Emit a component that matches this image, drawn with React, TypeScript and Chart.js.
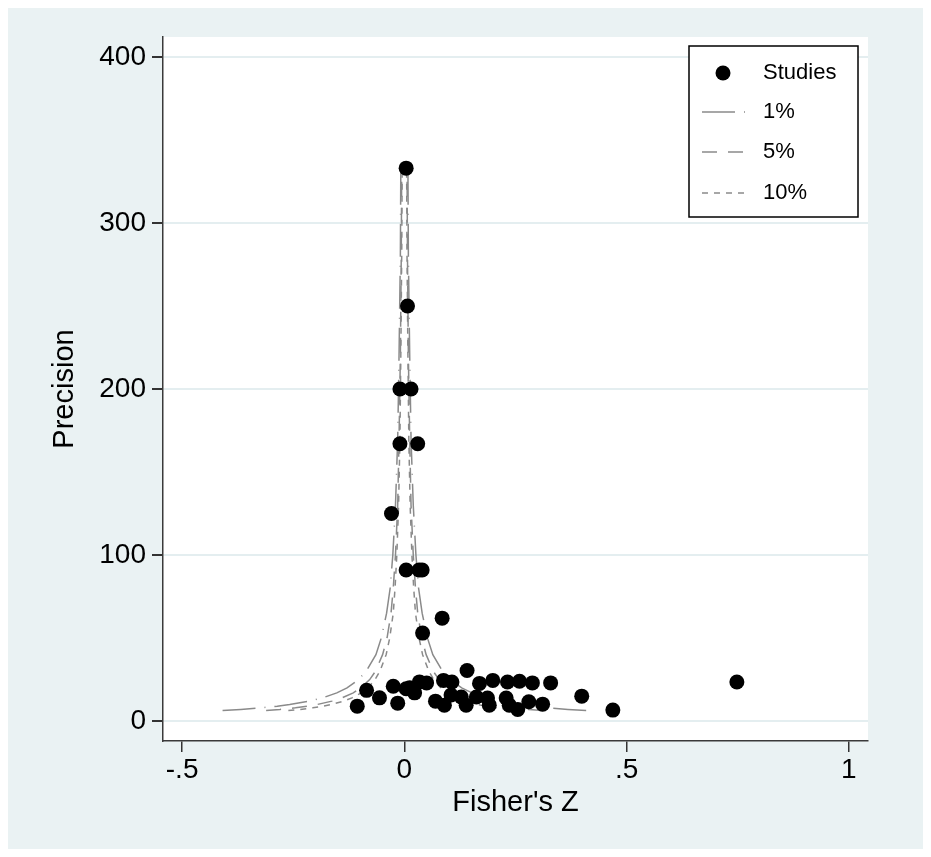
import React, { useEffect, useRef } from 'react';
import { Chart, registerables } from 'chart.js';

Chart.register(...registerables);

// ---- Data ----
// Studies: Fisher's Z (x) and precision (y)
const studyZ = [
  0.004, 0.007, -0.01, 0.015, -0.01, 0.03, -0.029, 0.004, 0.033, 0.04, 0.085, 0.041,
  -0.106, -0.085, -0.056, -0.025, -0.015, 0.004, 0.012, 0.023, 0.034, 0.05, 0.07,
  0.088, 0.107, 0.141, 0.09, 0.105, 0.128, 0.139, 0.162, 0.169, 0.187, 0.191,
  0.199, 0.229, 0.232, 0.236, 0.255, 0.259, 0.28, 0.288, 0.311, 0.329, 0.399,
  0.469, 0.748,
];
const studyPrecision = [
  333, 250, 200, 200, 167, 167, 125, 91, 91, 91, 62, 53,
  9, 18.5, 14, 21, 10.8, 19.5, 20, 17, 23.6, 23, 12,
  24.5, 23.5, 30.5, 9.6, 15.7, 14.5, 9.6, 14.5, 22.7, 13.9, 9.6,
  24.5, 13.9, 23.5, 9.6, 7, 24, 11.6, 23, 10.2, 23, 15,
  6.6, 23.5,
];

// Significance contours (funnel is symmetric about 0): half-width at each precision level
const contourPrecision = [6.3, 7, 8, 9, 10, 12, 14, 17, 20, 25, 30, 40, 50, 65, 80, 100, 130, 170, 220, 280, 334];
const contour1pct = [0.409, 0.368, 0.322, 0.286, 0.258, 0.215, 0.184, 0.152, 0.129, 0.103, 0.086, 0.064, 0.052, 0.040, 0.032, 0.026, 0.020, 0.015, 0.012, 0.009, 0.008];
const contour5pct = [0.311, 0.280, 0.245, 0.218, 0.196, 0.163, 0.140, 0.115, 0.098, 0.078, 0.065, 0.049, 0.039, 0.030, 0.025, 0.020, 0.015, 0.012, 0.009, 0.007, 0.006];
const contour10pct = [0.261, 0.235, 0.206, 0.183, 0.165, 0.137, 0.118, 0.097, 0.082, 0.066, 0.055, 0.041, 0.033, 0.025, 0.021, 0.017, 0.013, 0.010, 0.008, 0.006, 0.005];

const xTickValues = [-0.5, 0, 0.5, 1];
const xTickLabels = ['-.5', '0', '.5', '1'];
const yTickValues = [0, 100, 200, 300, 400];
const yTickLabels = ['0', '100', '200', '300', '400'];
const legendLabels = ['Studies', '1%', '5%', '10%'];
const xAxisTitle = "Fisher's Z";
const yAxisTitle = 'Precision';

// ---- Styles ----
const FONT = '"Liberation Sans", Arial, sans-serif';
const BG = '#eaf2f3';
const LINE_GRAY = '#8a8a8a';
const DASH_1 = [33, 9, 1, 9];
const DASH_5 = [15, 11];
const DASH_10 = [6, 6];

function branch(offsets: number[], sign: number) {
  return contourPrecision.map((p, i) => ({ x: sign * offsets[i], y: p }));
}

function lineDataset(offsets: number[], sign: number, dash: number[]) {
  return {
    label: '',
    data: branch(offsets, sign),
    showLine: true,
    pointRadius: 0,
    pointHoverRadius: 0,
    borderColor: LINE_GRAY,
    borderWidth: 1.5,
    borderDash: dash,
    fill: false,
    tension: 0,
  };
}

const backgroundPlugin = {
  id: 'stataBackground',
  beforeDraw(chart: any) {
    const { ctx, chartArea, width, height } = chart;
    ctx.save();
    ctx.fillStyle = BG;
    ctx.fillRect(0, 0, width, height);
    ctx.fillStyle = '#ffffff';
    ctx.fillRect(chartArea.left, chartArea.top, chartArea.right - chartArea.left, chartArea.bottom - chartArea.top);
    ctx.restore();
  },
};

const legendPlugin = {
  id: 'stataLegend',
  afterDatasetsDraw(chart: any) {
    const { ctx, chartArea } = chart;
    const w = 169;
    const h = 171;
    const left = chartArea.right - 10 - w;
    const top = chartArea.top + 9;
    ctx.save();
    ctx.fillStyle = '#ffffff';
    ctx.fillRect(left, top, w, h);
    ctx.strokeStyle = '#000000';
    ctx.lineWidth = 1.5;
    ctx.strokeRect(left, top, w, h);

    const rowY = [27, 66, 106, 147].map((d) => top + d);
    // Studies marker
    ctx.fillStyle = '#000000';
    ctx.beginPath();
    ctx.arc(left + 34, rowY[0], 7.5, 0, Math.PI * 2);
    ctx.fill();
    const dashes = [DASH_1, DASH_5, DASH_10];
    dashes.forEach((d, i) => {
      ctx.strokeStyle = LINE_GRAY;
      ctx.lineWidth = 1.5;
      ctx.setLineDash(d);
      ctx.beginPath();
      ctx.moveTo(left + 13, rowY[i + 1]);
      ctx.lineTo(left + 58, rowY[i + 1]);
      ctx.stroke();
    });
    ctx.setLineDash([]);
    ctx.fillStyle = '#000000';
    ctx.font = `22px ${FONT}`;
    ctx.textBaseline = 'middle';
    ctx.textAlign = 'left';
    legendLabels.forEach((t, i) => ctx.fillText(t, left + 74, rowY[i]));
    ctx.restore();
  },
};

export default function App() {
  const ref = useRef<HTMLCanvasElement>(null);

  useEffect(() => {
    if (!ref.current) return;
    const chart = new Chart(ref.current, {
      type: 'scatter',
      data: {
        datasets: [
          {
            label: legendLabels[0],
            data: studyZ.map((z, i) => ({ x: z, y: studyPrecision[i] })),
            pointRadius: 7.5,
            pointHoverRadius: 7.5,
            pointBackgroundColor: '#000000',
            pointBorderWidth: 0,
            borderColor: '#000000',
            showLine: false,
          },
          lineDataset(contour1pct, -1, DASH_1),
          lineDataset(contour1pct, 1, DASH_1),
          lineDataset(contour5pct, -1, DASH_5),
          lineDataset(contour5pct, 1, DASH_5),
          lineDataset(contour10pct, -1, DASH_10),
          lineDataset(contour10pct, 1, DASH_10),
        ] as any,
      },
      options: {
        animation: false,
        responsive: false,
        events: [],
        layout: { padding: { left: 0, top: 29, right: 55, bottom: 8 } },
        plugins: {
          legend: { display: false },
          tooltip: { enabled: false },
        },
        scales: {
          x: {
            type: 'linear',
            min: -0.543,
            max: 1.043,
            afterFit: (s: any) => { s.height = 100; },
            afterBuildTicks: (s: any) => { s.ticks = xTickValues.map((v) => ({ value: v })); },
            grid: { drawOnChartArea: false, drawTicks: true, tickLength: 11, tickColor: '#333333', lineWidth: 1.5 },
            border: { display: true, color: '#3a3a3a', width: 1.5 },
            ticks: {
              color: '#000000',
              font: { family: FONT, size: 28 },
              padding: 1,
              maxRotation: 0,
              callback: (v: any) => {
                const i = xTickValues.indexOf(Number(v));
                return i >= 0 ? xTickLabels[i] : '';
              },
            },
            title: {
              display: true,
              text: xAxisTitle,
              color: '#000000',
              font: { family: FONT, size: 29 },
              padding: { top: 0, bottom: 21 },
            },
          },
          y: {
            type: 'linear',
            min: -12,
            max: 412,
            afterFit: (s: any) => { s.width = 155; },
            afterBuildTicks: (s: any) => { s.ticks = yTickValues.map((v) => ({ value: v })); },
            grid: { drawOnChartArea: true, color: '#e4eef0', drawTicks: true, tickLength: 11, tickColor: '#333333', lineWidth: 2 },
            border: { display: true, color: '#3a3a3a', width: 1.5 },
            ticks: {
              color: '#000000',
              font: { family: FONT, size: 28 },
              padding: 6,
              callback: (v: any) => {
                const i = yTickValues.indexOf(Number(v));
                return i >= 0 ? yTickLabels[i] : '';
              },
            },
            title: {
              display: true,
              text: yAxisTitle,
              color: '#000000',
              font: { family: FONT, size: 29 },
              padding: { top: 40, bottom: 0 },
            },
          },
        },
      } as any,
      plugins: [backgroundPlugin, legendPlugin],
    });
    return () => chart.destroy();
  }, []);

  return <canvas ref={ref} width={915} height={841} style={{ display: 'block' }} />;
}
